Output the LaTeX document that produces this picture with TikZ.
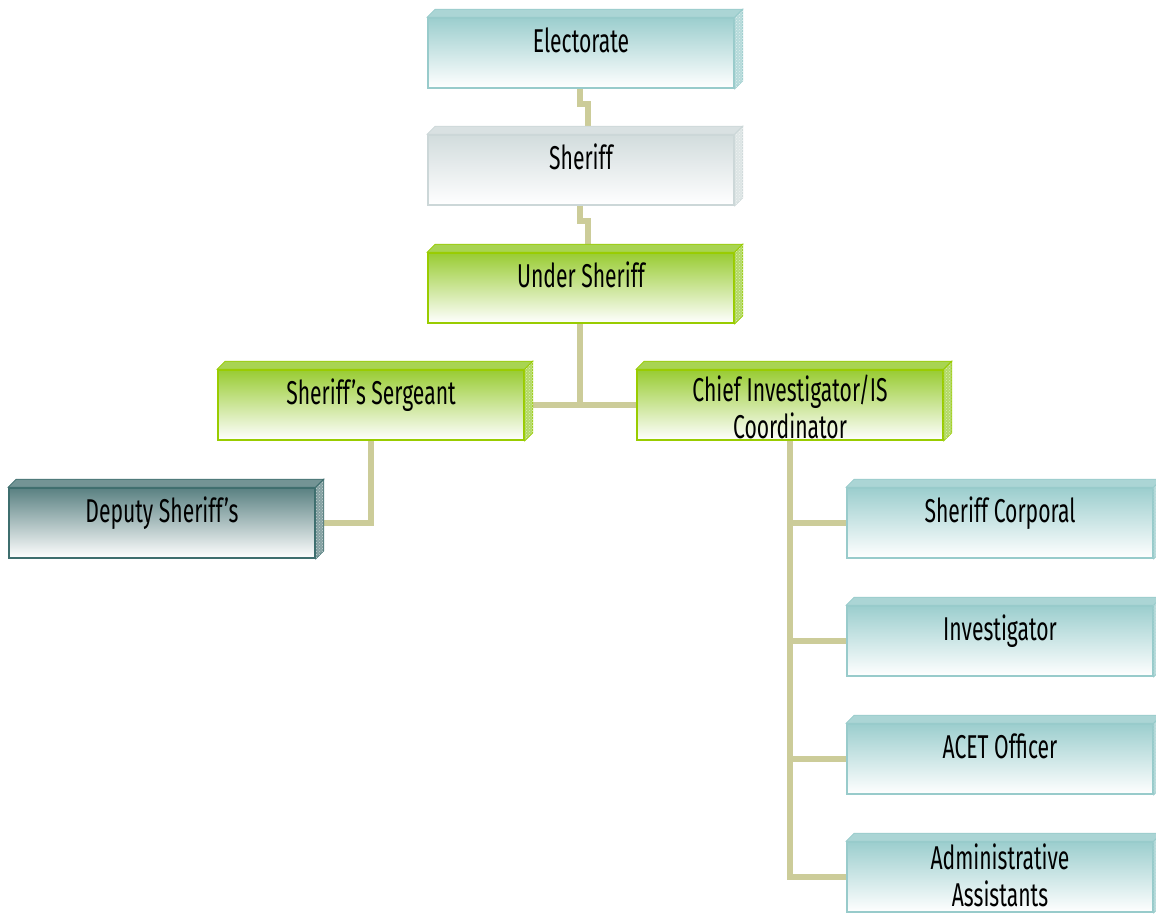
\documentclass[tikz,border=0pt]{standalone}
\usepackage{fontspec}
\setmainfont{Fira Sans}[FakeStretch=0.64]
\usetikzlibrary{patterns,calc,backgrounds}

% box palettes: face colour and rim colour
\definecolor{tealface}{HTML}{9CCECE}
\definecolor{tealrim}{HTML}{98CBCB}
\definecolor{grayface}{HTML}{D2DCDD}
\definecolor{grayrim}{HTML}{CCD7D8}
\definecolor{greenface}{HTML}{99CC33}
\definecolor{greenrim}{HTML}{99CC00}
\definecolor{darkface}{HTML}{5A8182}
\definecolor{darkrim}{HTML}{3E6E6E}
\definecolor{linkcol}{HTML}{CCCC99}

\tikzset{
  link/.style={draw=linkcol, line width=6pt},
  lbl/.style={anchor=base, inner sep=0pt, font=\fontsize{33}{37}\selectfont,
    align=center, text=black},
}

% \orgbox{name}{centre x}{top y}{face}{rim}{label}{baseline offset of last line}
\newcommand{\orgbox}[7]{%
  \node[minimum width=306pt, minimum height=70pt, inner sep=0pt,
        draw=#5, line width=1.6pt,
        top color=#4, middle color=#4!35!white, bottom color=white]
        (#1) at (#2,#3+35) {};
  % top bevel
  \fill[#4!85!white, draw=#5, line width=0.8pt]
    (#1.north west) -- ++(8,-8) -- ($(#1.north east)+(8,-8)$) -- (#1.north east) -- cycle;
  % right bevel
  \fill[#4!75!white, draw=#5, line width=0.8pt]
    (#1.north east) -- ++(8,-8) -- ($(#1.south east)+(8,-8)$) -- (#1.south east) -- cycle;
  \fill[pattern=crosshatch dots, pattern color=white!70!#5]
    (#1.north east) -- ++(8,-8) -- ($(#1.south east)+(8,-8)$) -- (#1.south east) -- cycle;
  \node[lbl] (#1-t) at (#2,#3+#7) {#6};
}

\begin{document}
\begin{tikzpicture}[x=1pt, y=-1pt]
\useasboundingbox (0,0) rectangle (1156,913);

\orgbox{elec}{581}{18}{tealface}{tealrim}{Electorate}{34}
\orgbox{sher}{581}{135}{grayface}{grayrim}{Sheriff}{34}
\orgbox{under}{581}{253}{greenface}{greenrim}{Under Sheriff}{34}
\orgbox{serg}{371}{370}{greenface}{greenrim}{Sheriff’s Sergeant}{34}
\orgbox{chief}{790}{370}{greenface}{greenrim}{Chief Investigator/IS\\Coordinator}{68}
\orgbox{dep}{162}{488}{darkface}{darkrim}{Deputy Sheriff’s}{34}
\orgbox{corp}{1000}{488}{tealface}{tealrim}{Sheriff Corporal}{34}
\orgbox{inv}{1000}{606}{tealface}{tealrim}{Investigator}{34}
\orgbox{acet}{1000}{724}{tealface}{tealrim}{ACET Officer}{34}
\orgbox{adm}{1000}{842}{tealface}{tealrim}{Administrative\\Assistants}{64}

% connectors behind the boxes
\begin{scope}[on background layer]
  \draw[link] ([xshift=-1pt]elec.south) -- ++(0,15) -| ([xshift=7pt]sher.north);
  \draw[link] ([xshift=-1pt]sher.south) -- ++(0,15) -| ([xshift=7pt]under.north);
  \draw[link] ([xshift=-1pt]under.south) -- ([xshift=-1pt]under.south |- serg.east);
  \draw[link] (serg.east) -- (chief.west);
  \draw[link] (serg.south) |- (dep.east);
  \draw[link] (chief.south) |- (adm.west);
  \draw[link] (chief.south |- corp.west) -- (corp.west);
  \draw[link] (chief.south |- inv.west) -- (inv.west);
  \draw[link] (chief.south |- acet.west) -- (acet.west);
\end{scope}
\end{tikzpicture}
\end{document}
